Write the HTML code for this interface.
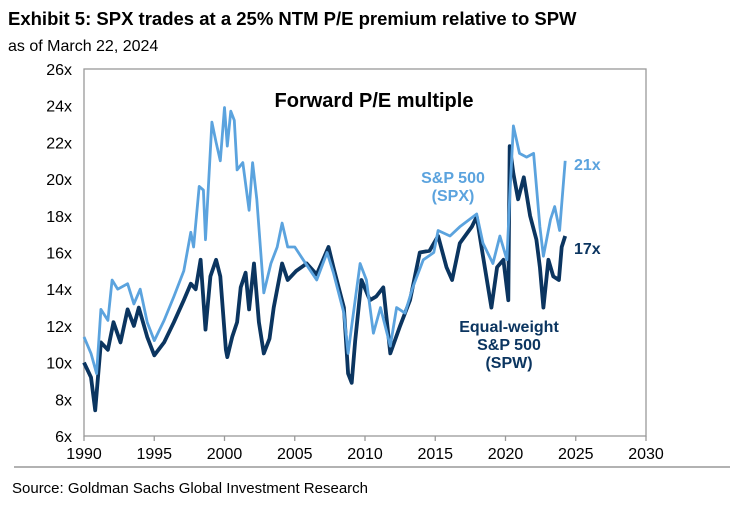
<!DOCTYPE html>
<html><head><meta charset="utf-8"><style>
body{margin:0;background:#fff;}
svg text{font-family:"Liberation Sans",Arial,sans-serif;}
</style></head><body>
<svg width="735" height="501" viewBox="0 0 735 501">
<text x="8" y="25" font-size="18.5" font-weight="bold" fill="#000">Exhibit 5: SPX trades at a 25% NTM P/E premium relative to SPW</text>
<text x="8" y="51" font-size="16" fill="#000">as of March 22, 2024</text>
<g id="axes"></g>
<g id="series"></g>
<text x="374" y="107" font-size="20" font-weight="bold" text-anchor="middle">Forward P/E multiple</text>
<text x="453" y="183" font-size="16" font-weight="bold" fill="#5ba3de" text-anchor="middle">S&amp;P 500</text>
<text x="453" y="201" font-size="16" font-weight="bold" fill="#5ba3de" text-anchor="middle">(SPX)</text>
<text x="574" y="170" font-size="16" font-weight="bold" fill="#5ba3de">21x</text>
<text x="574" y="254" font-size="16" font-weight="bold" fill="#0b3560">17x</text>
<text x="509" y="332" font-size="16" font-weight="bold" fill="#0b3560" text-anchor="middle">Equal-weight</text>
<text x="509" y="350" font-size="16" font-weight="bold" fill="#0b3560" text-anchor="middle">S&amp;P 500</text>
<text x="509" y="368" font-size="16" font-weight="bold" fill="#0b3560" text-anchor="middle">(SPW)</text>
<line x1="14" y1="467" x2="730" y2="467" stroke="#999" stroke-width="1.5"/>
<text x="12" y="493" font-size="15" fill="#000">Source: Goldman Sachs Global Investment Research</text>
</svg>
<script>
const yTicks=[6,8,10,12,14,16,18,20,22,24,26];
const xTicks=[1990,1995,2000,2005,2010,2015,2020,2025,2030];
const spxYears=[1990,1990.5,1990.9,1991.2,1991.7,1992,1992.4,1993.1,1993.55,1994,1994.5,1995,1995.7,1996.4,1997.1,1997.6,1997.8,1998.2,1998.5,1998.65,1999.1,1999.4,1999.7,2000,2000.2,2000.45,2000.7,2000.9,2001.3,2001.75,2002,2002.3,2002.8,2003.3,2003.75,2004.1,2004.5,2005,2005.6,2006.56,2007.3,2007.75,2008.5,2008.8,2009.05,2009.65,2010.1,2010.6,2011.1,2011.8,2012.25,2012.85,2013.4,2014.15,2014.9,2015.2,2016.05,2016.75,2017.95,2018.4,2019.1,2019.6,2020.1,2020.3,2020.56,2021,2021.5,2022,2022.45,2022.7,2023.2,2023.5,2023.85,2024.25];
const spxValues=[11.4,10.5,9.4,12.9,12.3,14.5,14.0,14.3,13.2,14.0,12.2,11.2,12.3,13.6,15.0,17.1,16.3,19.6,19.4,16.7,23.1,22.0,21.0,23.9,21.8,23.7,23.2,20.5,20.9,18.3,20.9,18.9,13.8,15.4,16.3,17.6,16.3,16.3,15.6,14.5,16.0,14.9,12.7,10.5,12.0,15.4,14.5,11.6,13.0,10.9,13.0,12.7,14.1,15.6,16.0,17.2,16.9,17.4,18.1,16.5,15.4,16.9,15.6,19.0,22.9,21.4,21.2,21.4,17.4,15.8,17.8,18.5,17.2,21.0];
const spwYears=[1990,1990.5,1990.8,1991.2,1991.7,1992.1,1992.6,1993.1,1993.55,1993.9,1994.5,1995,1995.7,1996.4,1997.1,1997.6,1997.95,1998.3,1998.65,1999,1999.4,1999.7,2000.1,2000.2,2000.55,2000.9,2001.15,2001.5,2001.75,2002.1,2002.45,2002.8,2003.2,2003.5,2004.1,2004.5,2005.1,2005.85,2006.56,2007.4,2007.75,2008.5,2008.8,2009.05,2009.3,2009.75,2010.35,2010.8,2011.3,2011.8,2012.5,2013.2,2013.9,2014.6,2015.2,2015.8,2016.2,2016.75,2017.6,2017.95,2018.4,2019,2019.4,2019.85,2020.2,2020.3,2020.56,2020.9,2021.3,2021.75,2022.2,2022.45,2022.7,2023.05,2023.4,2023.8,2024,2024.25];
const spwValues=[10.0,9.2,7.4,11.1,10.7,12.2,11.1,12.9,12.0,13.0,11.4,10.4,11.1,12.2,13.4,14.3,14.0,15.6,11.8,14.7,15.6,14.7,10.7,10.3,11.4,12.2,14.1,14.9,12.9,15.4,12.2,10.5,11.3,13.0,15.4,14.5,15.0,15.4,14.8,16.3,15.2,13.0,9.4,8.9,11.2,14.5,13.4,13.6,14.1,10.5,12.0,13.4,16.0,16.1,16.9,15.2,14.5,16.5,17.4,17.95,15.8,13.0,15.2,15.6,13.4,21.8,20.3,18.9,20.1,18.0,16.7,15.2,13.0,15.6,14.7,14.5,16.3,16.9];
const X0=84,X1=646,Y0=436,Y1=69;
const xs=y=>X0+(y-1990)/(2030-1990)*(X1-X0);
const ys=v=>Y0-(v-6)/(26-6)*(Y0-Y1);
const NS='http://www.w3.org/2000/svg';
const ax=document.getElementById('axes');
function mk(t,a,p){const e=document.createElementNS(NS,t);for(const k in a)e.setAttribute(k,a[k]);p.appendChild(e);return e;}
const frame=mk('rect',{x:X0,y:Y1,width:X1-X0,height:Y0-Y1,fill:'none',stroke:'#999','stroke-width':1.3},ax);


yTicks.forEach(v=>{const t=mk('text',{x:72,y:ys(v)+6,'font-size':16,'text-anchor':'end'},ax);t.textContent=v+'x';

});
xTicks.forEach(v=>{const l=mk('line',{x1:xs(v),x2:xs(v),y1:Y0,y2:Y0+5,stroke:'#999','stroke-width':1.3},ax);


const t=mk('text',{x:xs(v),y:459,'font-size':16,'text-anchor':'middle'},ax);t.textContent=v;

});
const sg=document.getElementById('series');
function line(xa,va,col,w,name){const d=xa.map((x,i)=>(i?'L':'M')+xs(x).toFixed(1)+' '+ys(va[i]).toFixed(1)).join(' ');
const p=mk('path',{d:d,fill:'none',stroke:col,'stroke-width':w,'stroke-linejoin':'round'},sg);

}
line(spwYears,spwValues,'#0b3560',3.8,'spw-line');
line(spxYears,spxValues,'#5ba3de',2.8,'spx-line');
</script>
</body></html>
